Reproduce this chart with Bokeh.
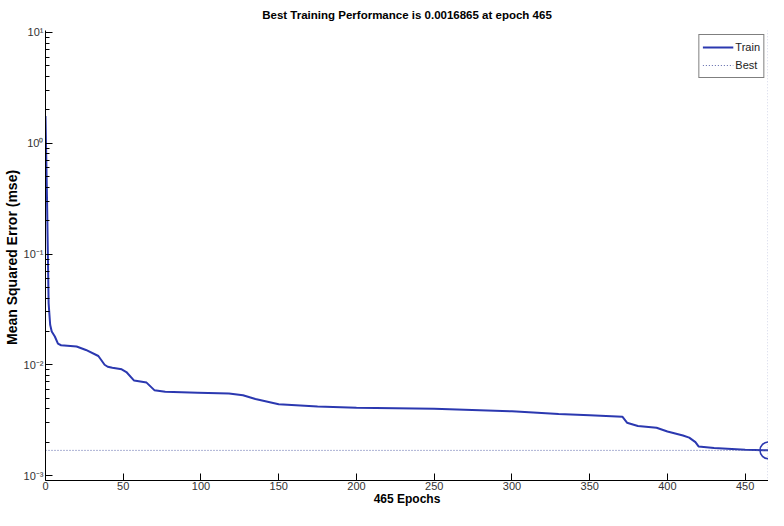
from bokeh.plotting import figure
from bokeh.models import FixedTicker, CustomJSTickFormatter, Range1d
from bokeh.embed import file_html
from bokeh.resources import INLINE

# ---- data ----
epochs = [0, 1, 2, 3, 4, 6, 8, 10, 20, 26, 34, 38, 40, 43, 49, 52, 57, 65, 70, 77,
          98, 118, 127, 135, 150, 175, 200, 250, 300, 330, 350, 371, 374, 381, 393,
          400, 410, 414, 418, 420, 430, 450, 465]
mse = [1.76, 0.30, 0.036, 0.023, 0.020, 0.018, 0.0155, 0.0150, 0.0146, 0.0136,
       0.0120, 0.0100, 0.0096, 0.0094, 0.0091, 0.0086, 0.0072, 0.0069, 0.0059, 0.0057,
       0.0056, 0.0055, 0.0053, 0.0049, 0.0044, 0.0042, 0.0041, 0.0040, 0.0038, 0.0036,
       0.0035, 0.0034, 0.0030, 0.0028, 0.0027, 0.0025, 0.0023, 0.0022, 0.0020, 0.00183,
       0.00177, 0.00171, 0.0016865]
best_epoch = 465
best_mse = 0.0016865
x_ticks = [0, 50, 100, 150, 200, 250, 300, 350, 400, 450]
y_major = [1e-3, 1e-2, 1e-1, 1e0, 1e1]
y_minor = [k * 10.0 ** e for e in range(-3, 1) for k in range(2, 10)]
title_text = "Best Training Performance is 0.0016865 at epoch 465"
x_label = "465 Epochs"
y_label = "Mean Squared Error  (mse)"

TRAIN_COLOR = "#2b38b0"
BEST_COLOR = "#5a64a8"
NARROW = "Liberation Sans Narrow, Liberation Sans, Arial, sans-serif"
SANS = "Liberation Sans, Arial, sans-serif"

p = figure(width=768, height=510, y_axis_type="log",
           x_range=Range1d(0, best_epoch),
           y_range=Range1d(10 ** -3.045, 10 ** 1.018),
           output_backend="svg", toolbar_location=None,
           min_border_left=37, min_border_right=0,
           min_border_top=22, min_border_bottom=30)

p.background_fill_color = "white"
p.border_fill_color = "white"
p.outline_line_color = None
p.xgrid.visible = False
p.ygrid.visible = False

p.title.text = title_text
p.title.align = "center"
p.title.vertical_align = "top"
p.title.text_font = SANS
p.title.text_font_style = "bold"
p.title.text_font_size = "11.5px"
p.title.text_color = "black"
p.title.standoff = 16

# axes
p.xaxis.ticker = FixedTicker(ticks=x_ticks)
p.yaxis.ticker = FixedTicker(ticks=y_major, minor_ticks=y_minor)
p.yaxis.formatter = CustomJSTickFormatter(code="""
const e = Math.round(Math.log10(tick));
const sup = {'-':'\u207b','0':'\u2070','1':'\u00b9','2':'\u00b2','3':'\u00b3',
             '4':'\u2074','5':'\u2075','6':'\u2076','7':'\u2077','8':'\u2078','9':'\u2079'};
return '10' + String(e).split('').map(c => sup[c]).join('');
""")
for ax in (p.xaxis[0], p.yaxis[0]):
    ax.axis_line_color = "black"
    ax.major_tick_line_color = "black"
    ax.minor_tick_line_color = "black"
    ax.major_tick_in = 7
    ax.major_tick_out = 0
    ax.minor_tick_in = 4
    ax.minor_tick_out = 0
    ax.major_label_text_font = NARROW
    ax.major_label_text_font_size = "11px"
    ax.major_label_text_color = "#333333"
    ax.axis_label_text_font = SANS
    ax.axis_label_text_font_style = "bold"
    ax.axis_label_text_color = "black"
p.xaxis.axis_label = x_label
p.xaxis.axis_label_text_font_size = "12px"
p.xaxis.major_label_standoff = 1
p.xaxis.axis_label_standoff = -1
p.yaxis.axis_label = y_label
p.yaxis.axis_label_text_font_size = "14px"
p.yaxis.major_label_standoff = 2
p.yaxis.axis_label_standoff = 1

# lines
p.line(epochs, mse, line_color=TRAIN_COLOR, line_width=2, legend_label="Train")
p.line([0, best_epoch], [best_mse, best_mse], line_color=BEST_COLOR,
       line_width=1, line_dash="1 2", legend_label="Best")
p.line([best_epoch, best_epoch], [y_major[0] / 10, y_major[-1] * 10],
       line_color=BEST_COLOR, line_width=1.5, line_dash="1 2")
p.scatter([best_epoch], [best_mse], marker="circle", size=17, fill_color=None,
          line_color=TRAIN_COLOR, line_width=1.5)

lg = p.legend[0]
lg.location = "top_right"
lg.margin = 4
lg.padding = 3
lg.spacing = 0
lg.glyph_width = 31
lg.glyph_height = 18
lg.label_height = 18
lg.label_width = 21
lg.label_standoff = 2
lg.label_text_font = NARROW
lg.label_text_font_size = "11px"
lg.label_text_color = "#222222"
lg.border_line_color = "black"
lg.border_line_width = 1
lg.background_fill_color = "white"
lg.background_fill_alpha = 1.0

open("out.html", "w").write(file_html(p, INLINE))
